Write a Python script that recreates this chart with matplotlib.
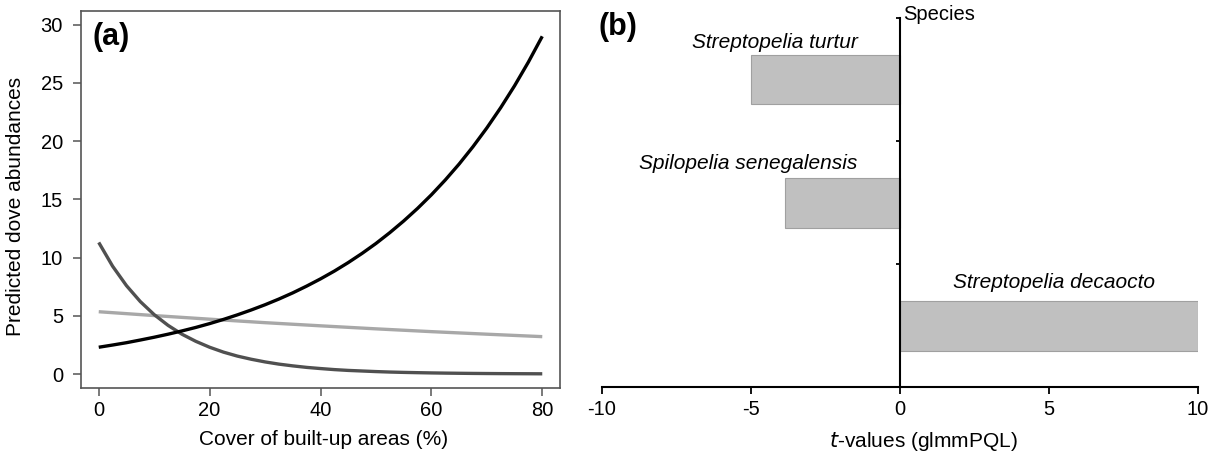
import matplotlib
matplotlib.use("Agg")
from matplotlib import pyplot as plt

plt.rcParams['font.family'] = ['Liberation Sans', 'DejaVu Sans']

# (a) predicted abundances against built-up cover
cover = [0, 2.5, 5, 7.5, 10, 12.5, 15, 17.5, 20, 22.5, 25, 27.5, 30, 32.5, 35, 37.5,
         40, 42.5, 45, 47.5, 50, 52.5, 55, 57.5, 60, 62.5, 65, 67.5, 70, 72.5, 75,
         77.5, 80]
decaocto_pred = [2.30, 2.49, 2.69, 2.92, 3.16, 3.42, 3.70, 4.00, 4.33, 4.69, 5.08,
                 5.50, 5.95, 6.44, 6.97, 7.55, 8.17, 8.84, 9.57, 10.36, 11.21, 12.14,
                 13.14, 14.22, 15.39, 16.66, 18.03, 19.52, 21.13, 22.87, 24.75, 26.79,
                 29.00]
senegalensis_pred = [11.30, 9.26, 7.59, 6.22, 5.10, 4.18, 3.42, 2.81, 2.30, 1.88,
                     1.54, 1.27, 1.04, 0.85, 0.70, 0.57, 0.47, 0.38, 0.31, 0.26, 0.21,
                     0.17, 0.14, 0.116, 0.095, 0.078, 0.064, 0.052, 0.043, 0.035,
                     0.029, 0.024, 0.019]
cover_lin = [0, 10, 20, 30, 40, 50, 60, 70, 80]
turtur_pred = [5.35, 5.02, 4.71, 4.41, 4.14, 3.88, 3.64, 3.42, 3.21]

# (b) t-values from glmmPQL
species = ['Streptopelia decaocto', 'Spilopelia senegalensis', 'Streptopelia turtur']
t_values = [10.0, -3.85, -5.0]

W, H = 1216, 459
fig = plt.figure(figsize=(W / 100, H / 100), dpi=100)

frame = '#555555'
ax1 = fig.add_axes([81 / W, 1 - 388 / H, 479 / W, 377.3 / H])
ax1.plot(cover_lin, turtur_pred, color='#a8a8a8', lw=2.4, solid_capstyle='butt')
ax1.plot(cover, senegalensis_pred, color='#505050', lw=2.4, solid_capstyle='butt')
ax1.plot(cover, decaocto_pred, color='black', lw=2.4, solid_capstyle='butt')
ax1.set_xlim(-3.2, 83.2)
ax1.set_ylim(-1.2, 31.2)
ax1.set_xticks([0, 20, 40, 60, 80])
ax1.set_yticks([0, 5, 10, 15, 20, 25, 30])
for s in ax1.spines.values():
    s.set_color(frame)
    s.set_linewidth(1.2)
ax1.tick_params(axis='both', length=6, width=1.1, color=frame, labelsize=14.5)
ax1.tick_params(axis='x', pad=3)
ax1.tick_params(axis='y', pad=7)
ax1.set_xlabel('Cover of built-up areas (%)', fontsize=15)
ax1.set_ylabel('Predicted dove abundances', fontsize=15)
ax1.xaxis.set_label_coords(0.507, -0.112)
ax1.yaxis.set_label_coords(-0.117, 0.48)
fig.text(92 / W, 1 - 37.5 / H, '(a)', fontsize=22, fontweight='bold',
         ha='left', va='center')

ax2 = fig.add_axes([602 / W, 1 - 387.3 / H, 596 / W, 369.3 / H])
ypos = list(range(len(species)))
ax2.barh(ypos, t_values, height=0.404, color='#c0c0c0', edgecolor='#a0a0a0',
         linewidth=0.8)
ax2.set_xlim(-10, 10)
ax2.set_ylim(-0.5, 2.5)
ax2.spines['top'].set_visible(False)
ax2.spines['right'].set_visible(False)
ax2.spines['left'].set_position(('data', 0))
ax2.spines['left'].set_linewidth(1.5)
ax2.spines['bottom'].set_linewidth(1.5)
ax2.set_xticks([-10, -5, 0, 5, 10])
ax2.set_xticklabels(['-10', '-5', '0', '5', '10'])
ax2.set_yticks([-0.5, 0.5, 1.5, 2.5])
ax2.set_yticklabels([])
ax2.tick_params(axis='x', length=5, width=1.3, labelsize=14.5, pad=4)
ax2.tick_params(axis='y', length=3, width=1.3)
ax2.set_xlabel('$\\it{t}$-values (glmmPQL)', fontsize=15)
ax2.xaxis.set_label_coords(0.539, -0.116)
ax2.text(0.1, 2.525, 'Species', fontsize=14.5, ha='left', va='center')

label_x = [8.57, -1.42, -1.42]
label_dy = [0.353, 0.315, 0.30]
for yi, name, lx, dy in zip(ypos, species, label_x, label_dy):
    ax2.text(lx, yi + dy, name, fontsize=15, style='italic', ha='right', va='center')

fig.text(598 / W, 1 - 27.5 / H, '(b)', fontsize=22, fontweight='bold',
         ha='left', va='center')

fig.savefig('out.png', dpi=100)
